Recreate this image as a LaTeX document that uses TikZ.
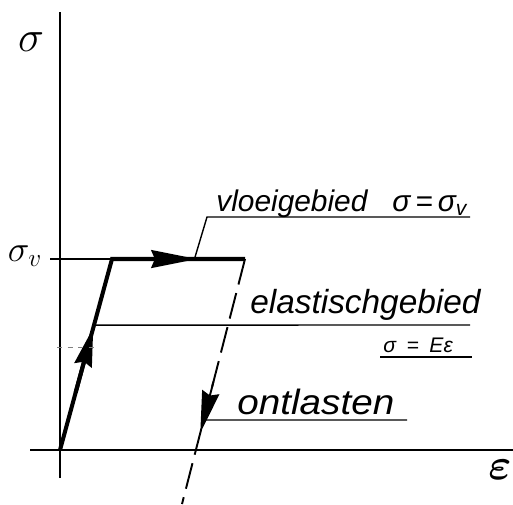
\documentclass[tikz,border=0pt]{standalone}
\usepackage{amsmath}
\usepackage{fontspec}
\setsansfont{Liberation Sans}
\usetikzlibrary{arrows.meta, calc}
\tikzset{
	axis/.style={line width=1.1pt},
	loadline/.style={line width=2.3pt},
	unload/.style={line width=1.1pt, dash pattern=on 15pt off 5pt},
	leader/.style={line width=0.8pt},
	lbl/.style={font=\sffamily\itshape, inner sep=0pt, anchor=base west},
	% filled arrow head ending at a point of a path
	headarrow/.style={-{Stealth[length=#1, width=10pt, inset=2pt]}, solid},
}

\begin{document}
\begin{tikzpicture}[x=0.02cm, y=-0.02cm]
	\useasboundingbox (0,0) rectangle (513,504);
	% axes
	\coordinate (O) at (60,450);
	\coordinate (ytop) at (60,12);
	\coordinate (ybot) at (60,478);
	\coordinate (xleft) at (30,450);
	\coordinate (xright) at (513,450);
	\draw[axis] (ybot) -- (ytop);
	\draw[axis] (xleft) -- (xright);
	\node (sig) at (31,42) {\fontsize{38}{38}\selectfont$\sigma$};
	\node (eps) at (500,470) {\fontsize{26}{26}\selectfont$\boldsymbol{\varepsilon}$};
	% yield level and path
	\coordinate (svl) at (50,259);
	\coordinate (A) at (112,259);
	\coordinate (B) at (245,259);
	\coordinate (C) at (182,504);
	\node[inner sep=0pt] (sigv) at (25,256) {\fontsize{22}{22}\selectfont$\sigma_v$};
	\draw[axis] (svl) -- (A);
	\draw[loadline] (O) -- (A) -- (B);
	\draw[unload] (B) -- (C);
	\coordinate (t1) at ($(O)!0.64!(A)$);
	\coordinate (t2) at ($(A)!0.64!(B)$);
	\coordinate (t3) at ($(B)!0.71!(C)$);
	\draw[loadline, headarrow=22pt] ($(O)!0.3!(A)$) -- (t1);
	\draw[loadline, headarrow=26pt] ($(A)!0.3!(B)$) -- (t2);
	\draw[axis, headarrow=24pt] ($(B)!0.5!(C)$) -- (t3);
	\coordinate (h0) at (57,347);
	\coordinate (h1) at (98,347);
	\draw[gray, thin, dashed] (h0) -- (h1);
	% vloeigebied
	\coordinate (vl0) at ($(A)!0.62!(B)$);
	\coordinate (vl1) at (207,217);
	\coordinate (vl2) at (470,217);
	\draw[leader] (vl0) -- (vl1) -- (vl2);
	\node[lbl, font=\sffamily\itshape\fontsize{17}{17}\selectfont] (vloei) at (216,211) {vloeigebied};
	\node[lbl, font=\sffamily\itshape\fontsize{17}{17}\selectfont] (vloeieq) at (392,211) {σ\,=\,σ\raisebox{-0.3ex}{\fontsize{12}{12}\selectfont v}};
	% elastischgebied
	\coordinate (el0) at ($(O)!0.654!(A)$);
	\coordinate (el1) at (470,325);
	\draw[leader] (el0) -- (el1);
	\node[lbl, font=\sffamily\itshape\fontsize{19}{19}\selectfont] (elast) at (250,313) {elastischgebied};
	\node[lbl, font=\sffamily\itshape\fontsize{12}{12}\selectfont] (elasteq) at (383,352) {σ\enspace=\enspace Eε};
	\coordinate (ee0) at (380,357);
	\coordinate (ee1) at (472,357);
	\draw[leader] (ee0) -- (ee1);
	% ontlasten
	\coordinate (on0) at ($(B)!0.657!(C)$);
	\coordinate (on1) at (407,420);
	\draw[leader] (on0) -- (on1);
	\node[lbl, font=\sffamily\itshape\fontsize{20}{20}\selectfont, xscale=1.1] (ontl) at (237,414) {ontlasten};
\end{tikzpicture}
\end{document}
